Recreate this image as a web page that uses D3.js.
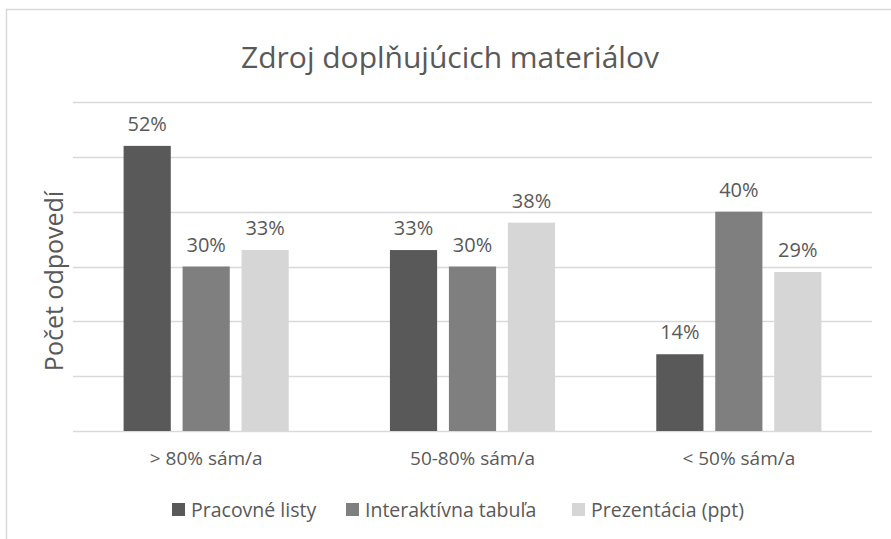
<!DOCTYPE html>
<html>
<head>
<meta charset="utf-8">
<script src="https://cdn.jsdelivr.net/npm/d3@7"></script>
<style>
  body { margin: 0; background: #fff; }
  text { font-family: "Open Sans", sans-serif; fill: #595959; }
</style>
</head>
<body>
<div id="chart"></div>
<script>
// data
var categories = ["> 80% sám/a", "50-80% sám/a", "< 50% sám/a"];
var seriesNames = ["Pracovné listy", "Interaktívna tabuľa", "Prezentácia (ppt)"];
var pracovne = [52, 33, 14];
var interaktivna = [30, 30, 40];
var prezentacia = [33, 38, 29];
var yTicks = [0, 10, 20, 30, 40, 50, 60];

var seriesValues = [pracovne, interaktivna, prezentacia];
var colors = ["#595959", "#7f7f7f", "#d6d6d6"];

var W = 891, H = 539;
var margin = { left:73, right:19, top:102, bottom:108 };
var width = W - margin.left - margin.right,
    height = H - margin.top - margin.bottom;

var svg = d3.select("#chart").append("svg")
    .attr("width", W)
    .attr("height", H);

// frame
svg.append("rect")
    .attr("x", 6.5).attr("y", 9.5)
    .attr("width", W + 10).attr("height", H + 10)
    .attr("fill", "none")
    .attr("stroke", "#d9d9d9")
    .attr("stroke-width", 1.5);

// title
svg.append("text")
    .attr("x", 450).attr("y", 68)
    .attr("text-anchor", "middle")
    .attr("font-size", "30px")
    .text("Zdroj doplňujúcich materiálov");

var g = svg.append("g")
    .attr("transform", "translate(" + margin.left + "," + margin.top + ")");

// scales
var x0 = d3.scaleBand()
    .domain(categories)
    .range([0, width])
    .paddingInner(0.38)
    .paddingOuter(0.19);

var x1 = d3.scaleBand()
    .domain(seriesNames)
    .range([0, x0.bandwidth()])
    .paddingInner(0.2);

var y = d3.scaleLinear()
    .domain([0, 60])
    .range([height, 0]);

// gridlines
g.append("g").selectAll("line")
    .data(yTicks)
    .enter().append("line")
      .attr("x1", 0).attr("x2", width)
      .attr("y1", function(d){ return Math.round(y(d)) + 0.5; })
      .attr("y2", function(d){ return Math.round(y(d)) + 0.5; })
      .attr("stroke", "#d9d9d9")
      .attr("stroke-width", 1.5);

// bars
var groups = g.append("g").selectAll("g")
    .data(categories)
    .enter().append("g")
      .attr("transform", function(d){ return "translate(" + x0(d) + ",0)"; });

var cells = groups.selectAll("g")
    .data(function(c, ci){
      return seriesNames.map(function(s, si){
        return { series: s, idx: si, value: seriesValues[si][ci] };
      });
    })
    .enter().append("g");

cells.append("rect")
    .attr("x", function(d){ return x1(d.series); })
    .attr("y", function(d){ return y(d.value); })
    .attr("width", x1.bandwidth())
    .attr("height", function(d){ return y(0) - y(d.value); })
    .attr("fill", function(d){ return colors[d.idx]; });

cells.append("text")
    .attr("x", function(d){ return x1(d.series) + x1.bandwidth() / 2; })
    .attr("y", function(d){ return y(d.value) - 15; })
    .attr("text-anchor", "middle")
    .attr("font-size", "20px")
    .text(function(d){ return d.value + "%"; });

// x axis labels
var xAxis = d3.axisBottom(x0).tickSize(0).tickPadding(21);
g.append("g")
    .attr("transform", "translate(0," + height + ")")
    .call(xAxis)
    .call(function(sel){ sel.select(".domain").remove(); })
    .selectAll("text")
      .attr("font-size", "19px")
      .attr("font-family", "Open Sans, sans-serif")
      .attr("fill", "#595959");

// y label
svg.append("text")
    .attr("transform", "translate(63,281) rotate(-90)")
    .attr("text-anchor", "middle")
    .attr("font-size", "25px")
    .text("Počet odpovedí");

// legend
var legendX = [172, 346, 572];
var legend = svg.append("g").selectAll("g")
    .data(seriesNames)
    .enter().append("g")
      .attr("transform", function(d, i){ return "translate(" + legendX[i] + ",503)"; });

legend.append("rect")
    .attr("width", 13).attr("height", 13)
    .attr("fill", function(d, i){ return colors[i]; });

legend.append("text")
    .attr("x", 19).attr("y", 13.5)
    .attr("font-size", "19.5px")
    .text(function(d){ return d; });
</script>
</body>
</html>
